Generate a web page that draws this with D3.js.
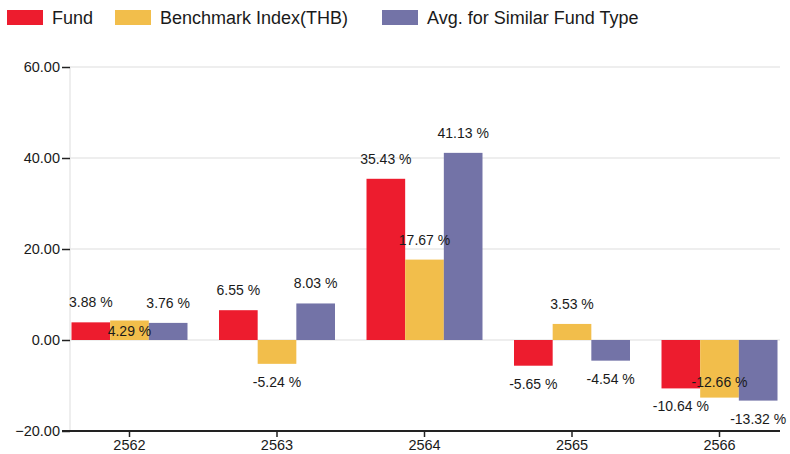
<!DOCTYPE html>
<html lang="en">
<head>
    <meta charset="UTF-8">
    <title>Fund performance</title>
    <style>
        body { margin: 0; background: #fff; }
        svg { display: block; font-family: "Liberation Sans", Arial, sans-serif; }
    </style>
</head>
<body>
    <svg id="chart" width="790" height="454"></svg>

    <script src="https://d3js.org/d3.v7.min.js"></script>
    <script>
        // Data
        var years = ["2562", "2563", "2564", "2565", "2566"];
        var fund = [3.88, 6.55, 35.43, -5.65, -10.64];
        var benchmark = [4.29, -5.24, 17.67, 3.53, -12.66];
        var avgSimilar = [3.76, 8.03, 41.13, -4.54, -13.32];
        var seriesNames = ["Fund", "Benchmark Index(THB)", "Avg. for Similar Fund Type"];
        var seriesColors = ["#ED1C2E", "#F2BE4B", "#7373A7"];
        var yTicks = [-20, 0, 20, 40, 60];

        var series = [fund, benchmark, avgSimilar];

        var svg = d3.select("#chart");

        // scales
        var x = d3.scaleBand().domain(years).range([71.5, 777.5]).paddingInner(0.2136).paddingOuter(0);
        var x1 = d3.scaleBand().domain([0, 1, 2]).range([0, x.bandwidth()]);
        var y = d3.scaleLinear().domain([-20, 60]).range([431, 67]);

        // gridlines
        svg.append("g").selectAll("line").data(yTicks.filter(function(t) { return t > -20; }))
            .join("line")
            .attr("x1", 70).attr("x2", 780)
            .attr("y1", function(d) { return y(d); }).attr("y2", function(d) { return y(d); })
            .attr("stroke", "#e8e8e8").attr("stroke-width", 1.5);

        // y axis line (light)
        svg.append("line").attr("x1", 70).attr("x2", 70).attr("y1", y(60)).attr("y2", y(-20))
            .attr("stroke", "#e8e8e8").attr("stroke-width", 1.5);

        // y axis ticks + labels
        var yAxis = svg.append("g").attr("transform", "translate(70,0)")
            .call(d3.axisLeft(y).tickValues(yTicks).tickSize(8).tickPadding(2)
                .tickFormat(function(d) { return d3.format(".2f")(d); }));
        yAxis.select(".domain").remove();
        yAxis.selectAll(".tick line").attr("stroke", "#222").attr("stroke-width", 1.5);
        yAxis.selectAll("text").attr("font-size", "14.5px").attr("fill", "#1a1a1a")
            .attr("font-family", "Liberation Sans, Arial, sans-serif");

        // bars
        var groups = svg.append("g").selectAll("g").data(years).join("g")
            .attr("transform", function(d) { return "translate(" + x(d) + ",0)"; });

        groups.selectAll("rect")
            .data(function(d, i) { return series.map(function(s, k) { return { k: k, v: s[i] }; }); })
            .join("rect")
            .attr("x", function(d) { return x1(d.k); })
            .attr("width", x1.bandwidth())
            .attr("y", function(d) { return y(Math.max(0, d.v)); })
            .attr("height", function(d) { return Math.abs(y(d.v) - y(0)); })
            .attr("fill", function(d) { return seriesColors[d.k]; });

        // value labels (middle one goes inside the bar when it would hit a neighbour)
        function labelY(v, inside) {
            if (v >= 0) return inside ? y(v) + 11 : y(v) - 20;
            return inside ? y(v) - 16 : y(v) + 18;
        }
        years.forEach(function(yr, i) {
            var pos = series.map(function(s) { return labelY(s[i], false); });
            if (Math.abs(pos[1] - pos[0]) < 14 || Math.abs(pos[1] - pos[2]) < 14) {
                pos[1] = labelY(series[1][i], true);
            }
            series.forEach(function(s, k) {
                svg.append("text")
                    .attr("x", x(yr) + x1(k) + x1.bandwidth() / 2)
                    .attr("y", pos[k])
                    .attr("dy", "0.35em")
                    .attr("text-anchor", "middle")
                    .attr("font-size", "14px")
                    .attr("fill", "#1a1a1a")
                    .text(s[i].toFixed(2) + " %");
            });
        });

        // x axis
        var xAxis = svg.append("g").attr("transform", "translate(0," + y(-20) + ")")
            .call(d3.axisBottom(x).tickSize(6).tickSizeOuter(0).tickPadding(3));
        xAxis.select(".domain").attr("d", "M62,0H780").attr("stroke", "#222").attr("stroke-width", 1.8);
        xAxis.selectAll(".tick line").attr("stroke", "#222").attr("stroke-width", 1.5);
        xAxis.selectAll("text").attr("font-size", "14.5px").attr("fill", "#1a1a1a")
            .attr("font-family", "Liberation Sans, Arial, sans-serif");

        // legend
        var legendX = [7, 115, 382];
        var legend = svg.append("g").selectAll("g").data(seriesNames).join("g")
            .attr("transform", function(d, i) { return "translate(" + legendX[i] + ",10)"; });
        legend.append("rect").attr("width", 36).attr("height", 15)
            .attr("fill", function(d, i) { return seriesColors[i]; });
        legend.append("text").attr("x", 45).attr("y", 8).attr("dy", "0.35em")
            .attr("font-size", "18px").attr("fill", "#1a1a1a")
            .text(function(d) { return d; });
    </script>
</body>
</html>
